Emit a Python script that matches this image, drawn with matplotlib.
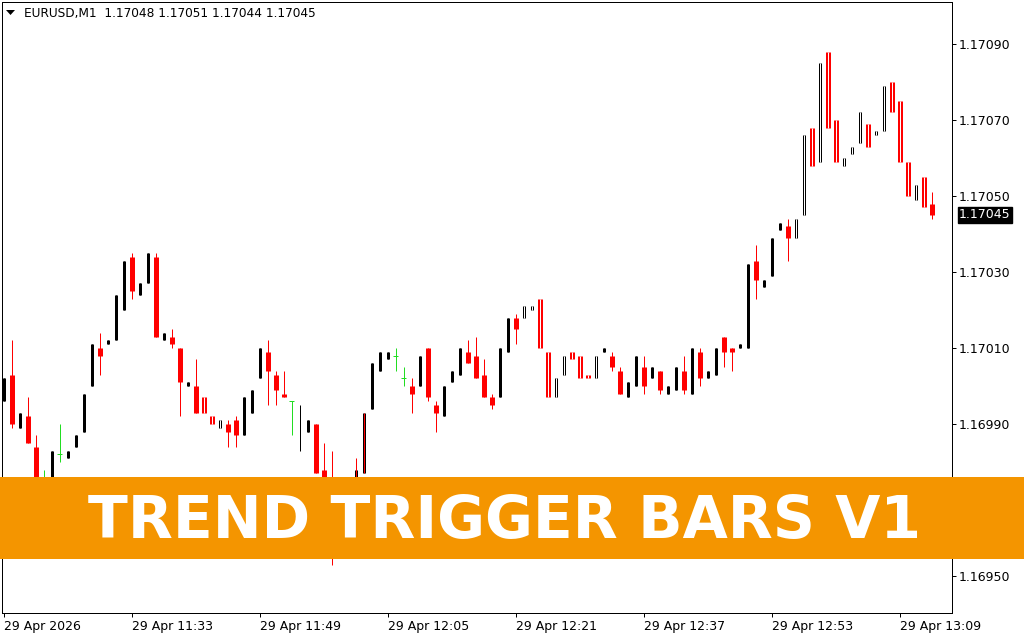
import numpy as np
import matplotlib
matplotlib.use("Agg")
import matplotlib.pyplot as plt
from matplotlib.patches import Rectangle, Polygon
from matplotlib.transforms import blended_transform_factory

# ---------------- data ----------------
header = "EURUSD,M1  1.17048 1.17051 1.17044 1.17045"
banner_text = "TREND TRIGGER BARS V1"

opens = [1.16996, 1.17003, 1.16989, 1.16992, 1.16984, 1.16972, 1.16968, 1.16982, 1.16981, 1.16984,
         1.16988, 1.17000, 1.17010, 1.17011, 1.17012, 1.17020, 1.17034, 1.17024, 1.17027, 1.17034,
         1.17012, 1.17013, 1.17010, 1.17000, 1.17000, 1.16997, 1.16992, 1.16989, 1.16990, 1.16991,
         1.16987, 1.16993, 1.17002, 1.17009, 1.17003, 1.16998, 1.16996, 1.16987, 1.16988, 1.16990,
         1.16978, 1.16966, 1.16960, 1.16966, 1.16968, 1.16977, 1.16994, 1.17004, 1.17007, 1.17008,
         1.17002, 1.17000, 1.17000, 1.17010, 1.16995, 1.16992, 1.17001, 1.17003, 1.17009, 1.17008,
         1.17003, 1.16997, 1.16997, 1.17009, 1.17018, 1.17018, 1.17020, 1.17023, 1.17009, 1.16997,
         1.17003, 1.17009, 1.17008, 1.17003, 1.17002, 1.17009, 1.17008, 1.17004, 1.16997, 1.17000,
         1.17005, 1.17002, 1.17004, 1.16998, 1.16999, 1.17004, 1.16998, 1.17009, 1.17002, 1.17003,
         1.17013, 1.17010, 1.17010, 1.17010, 1.17033, 1.17026, 1.17029, 1.17041, 1.17042, 1.17039,
         1.17045, 1.17068, 1.17059, 1.17088, 1.17070, 1.17058, 1.17061, 1.17064, 1.17069, 1.17066,
         1.17067, 1.17080, 1.17075, 1.17059, 1.17049, 1.17055, 1.17048]
highs = [1.17002, 1.17012, 1.16993, 1.16997, 1.16987, 1.16978, 1.16983, 1.16990, 1.16983, 1.16987,
         1.16998, 1.17011, 1.17014, 1.17012, 1.17024, 1.17033, 1.17035, 1.17027, 1.17035, 1.17035,
         1.17014, 1.17015, 1.17010, 1.17001, 1.17007, 1.16997, 1.16992, 1.16991, 1.16991, 1.16992,
         1.16997, 1.16999, 1.17010, 1.17012, 1.17004, 1.17004, 1.16996, 1.16995, 1.16991, 1.16990,
         1.16985, 1.16983, 1.16968, 1.16974, 1.16981, 1.16993, 1.17006, 1.17009, 1.17009, 1.17010,
         1.17005, 1.17002, 1.17008, 1.17010, 1.16996, 1.17000, 1.17004, 1.17010, 1.17012, 1.17013,
         1.17007, 1.16998, 1.17010, 1.17018, 1.17019, 1.17021, 1.17021, 1.17023, 1.17009, 1.17002,
         1.17008, 1.17009, 1.17008, 1.17003, 1.17008, 1.17010, 1.17009, 1.17005, 1.17001, 1.17008,
         1.17008, 1.17005, 1.17004, 1.17000, 1.17005, 1.17008, 1.17010, 1.17010, 1.17004, 1.17010,
         1.17013, 1.17010, 1.17011, 1.17032, 1.17037, 1.17028, 1.17039, 1.17043, 1.17044, 1.17044,
         1.17066, 1.17068, 1.17085, 1.17088, 1.17070, 1.17060, 1.17063, 1.17072, 1.17069, 1.17067,
         1.17079, 1.17080, 1.17075, 1.17059, 1.17053, 1.17055, 1.17051]
lows = [1.16996, 1.16989, 1.16989, 1.16985, 1.16970, 1.16966, 1.16968, 1.16980, 1.16981, 1.16984,
        1.16988, 1.17000, 1.17003, 1.17011, 1.17012, 1.17020, 1.17023, 1.17024, 1.17027, 1.17013,
        1.17012, 1.17010, 1.16992, 1.17000, 1.16993, 1.16993, 1.16990, 1.16989, 1.16984, 1.16984,
        1.16987, 1.16993, 1.17002, 1.16995, 1.16995, 1.16997, 1.16987, 1.16983, 1.16988, 1.16977,
        1.16965, 1.16953, 1.16960, 1.16966, 1.16966, 1.16977, 1.16994, 1.17004, 1.17007, 1.17004,
        1.17000, 1.16993, 1.17000, 1.16996, 1.16988, 1.16992, 1.17001, 1.17003, 1.17006, 1.17002,
        1.16997, 1.16994, 1.16997, 1.17009, 1.17011, 1.17018, 1.17020, 1.17010, 1.16997, 1.16997,
        1.17003, 1.17007, 1.17002, 1.17002, 1.17002, 1.17009, 1.17004, 1.16998, 1.16997, 1.17000,
        1.16998, 1.17002, 1.16998, 1.16998, 1.16999, 1.16998, 1.16998, 1.17000, 1.17002, 1.17003,
        1.17005, 1.17004, 1.17010, 1.17010, 1.17023, 1.17026, 1.17029, 1.17041, 1.17033, 1.17039,
        1.17045, 1.17058, 1.17059, 1.17068, 1.17059, 1.17058, 1.17061, 1.17064, 1.17063, 1.17066,
        1.17067, 1.17072, 1.17059, 1.17050, 1.17049, 1.17047, 1.17044]
closes = [1.17002, 1.16990, 1.16993, 1.16985, 1.16972, 1.16972, 1.16983, 1.16982, 1.16983, 1.16987,
          1.16998, 1.17011, 1.17008, 1.17012, 1.17024, 1.17033, 1.17025, 1.17027, 1.17035, 1.17013,
          1.17014, 1.17011, 1.17001, 1.17001, 1.16993, 1.16993, 1.16990, 1.16991, 1.16988, 1.16987,
          1.16997, 1.16999, 1.17010, 1.17004, 1.16999, 1.16997, 1.16987, 1.16987, 1.16991, 1.16977,
          1.16968, 1.16960, 1.16968, 1.16974, 1.16978, 1.16993, 1.17006, 1.17009, 1.17009, 1.17008,
          1.17002, 1.16998, 1.17008, 1.16997, 1.16993, 1.17000, 1.17004, 1.17010, 1.17006, 1.17002,
          1.16997, 1.16995, 1.17010, 1.17018, 1.17015, 1.17021, 1.17021, 1.17010, 1.16997, 1.17002,
          1.17008, 1.17007, 1.17002, 1.17002, 1.17008, 1.17010, 1.17005, 1.16998, 1.17001, 1.17008,
          1.17000, 1.17005, 1.16999, 1.17000, 1.17005, 1.16999, 1.17010, 1.17002, 1.17004, 1.17010,
          1.17009, 1.17009, 1.17011, 1.17032, 1.17028, 1.17028, 1.17039, 1.17043, 1.17039, 1.17044,
          1.17066, 1.17058, 1.17085, 1.17068, 1.17059, 1.17060, 1.17063, 1.17072, 1.17063, 1.17067,
          1.17079, 1.17072, 1.17059, 1.17050, 1.17053, 1.17047, 1.17045]
# bar kind: c = candle, d = trigger (hollow-centre) bar, g = doji, x = body with red range line
kinds = list("ccccc" "gcgcc" "ccccc" "ccccc" "ccccc" "dddcc" "ccccc" "cgccc"
             "ccccx" "xcccg" "gcccc" "ccccc" "ccccc" "ddddd" "ddddd" "ccccc"
             "ccccc" "ccccc" "ccccc" "ccccd" "ddddd" "ddddd" "ddddd" "dc")

tick_labels = ["29 Apr 2026", "29 Apr 11:33", "29 Apr 11:49", "29 Apr 12:05",
               "29 Apr 12:21", "29 Apr 12:37", "29 Apr 12:53", "29 Apr 13:09"]
tick_step = 16
price_ticks = [1.16950, 1.16970, 1.16990, 1.17010, 1.17030, 1.17050, 1.17070, 1.17090]

# ---------------- styling ----------------
W, H, DPI = 1024, 640, 100
PX = 72.0 / DPI            # one pixel in points
RED = "#FF0000"
BLACK = "#000000"
GREEN = "#22DD22"
ORANGE = "#F49500"

o = np.array(opens); h = np.array(highs); l = np.array(lows); c = np.array(closes)
x = np.arange(len(o))
kinds = np.array(kinds)
up = c >= o

fig = plt.figure(figsize=(W / DPI, H / DPI), dpi=DPI, facecolor="white")
ax = fig.add_axes([2 / W, 27 / H, 950 / W, 611 / H])
ax.set_facecolor("white")

for i in range(len(o)):
    k = kinds[i]
    lo_b, hi_b = min(o[i], c[i]), max(o[i], c[i])
    if k == "g":
        ax.vlines(x[i], l[i], h[i], colors=GREEN, linewidth=1 * PX, capstyle="butt")
        ax.hlines(o[i], x[i] - 0.3125, x[i] + 0.3125, colors=GREEN, linewidth=1 * PX)
        continue
    col = BLACK if (up[i] or k == "x") else RED
    bw = 3 if col == BLACK else 5
    if k == "c":
        ax.vlines(x[i], l[i], h[i], colors=col, linewidth=1 * PX, capstyle="butt")
    ax.vlines(x[i], lo_b, hi_b, colors=col, linewidth=bw * PX, capstyle="butt")
    if k == "d":
        ax.vlines(x[i], lo_b, hi_b, colors="white", linewidth=1 * PX, capstyle="butt")
    if k == "x":
        ax.vlines(x[i], l[i], h[i], colors=RED, linewidth=1 * PX, capstyle="butt")

ax.set_xlim(-0.1875, 118.5625)
ax.set_ylim(1.1694026, 1.1710105)

for s in ax.spines.values():
    s.set_color("black")
    s.set_linewidth(1 * PX)

ax.yaxis.tick_right()
ax.set_yticks(price_ticks)
ax.set_yticklabels([f"{v:.5f}" for v in price_ticks])
ax.set_xticks(x[::tick_step])
ax.set_xticklabels(tick_labels, ha="left")
ax.tick_params(axis="y", direction="out", length=4 * PX, width=1 * PX, pad=3 * PX,
               labelsize=9, colors="black")
ax.tick_params(axis="x", direction="out", length=4 * PX, width=1 * PX, pad=3 * PX,
               labelsize=9, colors="black")

# current price label
tr = blended_transform_factory(ax.transAxes, ax.transData)
ax.annotate(f"{c[-1]:.5f}", xy=(1.0, c[-1]), xycoords=tr,
            xytext=(7 * PX, 0), textcoords="offset points",
            ha="left", va="center", fontsize=9, color="white",
            bbox=dict(boxstyle="square,pad=0.12", fc="black", ec="black"),
            annotation_clip=False)

# header
fig.text(24 / W, 1 - 13.5 / H, header, fontsize=8.7, color="black", ha="left", va="center")
tri = Polygon([[6 / W, 1 - 10 / H], [15 / W, 1 - 10 / H], [10.5 / W, 1 - 15 / H]],
              closed=True, transform=fig.transFigure, fc="black", ec="none")
fig.add_artist(tri)

# banner
fig.add_artist(Rectangle((0, (H - 559) / H), 1, 82 / H, transform=fig.transFigure,
                         fc=ORANGE, ec="none", zorder=10))
fig.text(505 / W, (H - 538) / H, banner_text, fontsize=42, color="white",
         family=["DejaVu Sans"], fontweight="bold",
         ha="center", va="baseline", zorder=11)

fig.savefig("out.png", dpi=DPI, facecolor="white")
